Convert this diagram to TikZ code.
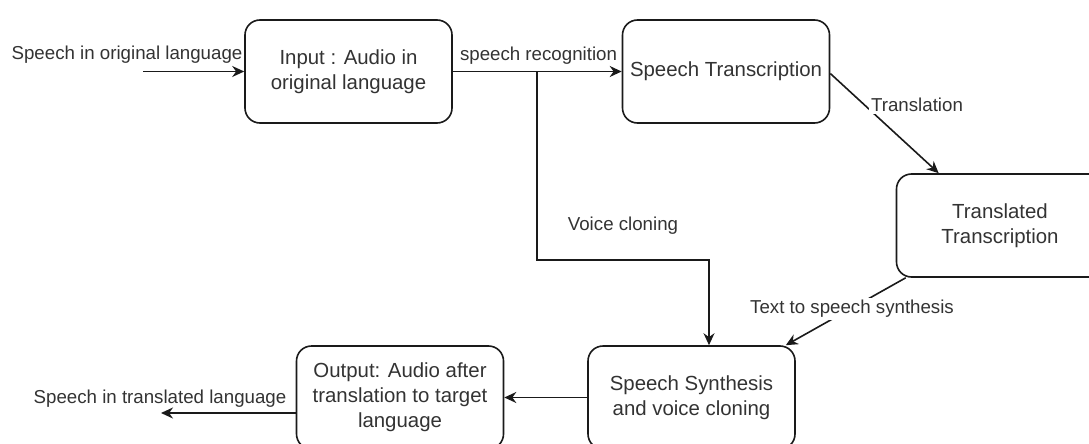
\documentclass[tikz,border=0pt]{standalone}
\usepackage{fontspec}
\setmainfont{Liberation Sans}
\usetikzlibrary{arrows.meta,calc}
\definecolor{ink}{HTML}{1A1A1A}
\definecolor{txt}{HTML}{333333}
\tikzset{
  box/.style={draw=ink,line width=1.6pt,rounded corners=15pt,minimum width=207pt,minimum height=103pt,inner sep=0pt,align=center,text=txt,font=\fontsize{20.4}{25}\selectfont},
  lbl/.style={text=txt,inner sep=1pt,font=\fontsize{18.7}{22}\selectfont},
  wlbl/.style={lbl,fill=white,inner sep=2pt},
  conn/.style={draw=ink,line width=1.6pt},
  arr/.style={conn,-{Stealth[length=12pt,width=11pt]}}
}
\begin{document}
\begin{tikzpicture}[x=1pt,y=-1pt]
\useasboundingbox (0,0) rectangle (1089,444);
\clip (0,0) rectangle (1089,444);
\fill[white] (0,0) rectangle (1089,444);
\node[box] (inp) at (348.5,71.5) {Input : Audio in\\original language};
\node[box] (st) at (726,71.5) {Speech Transcription};
\node[box] (tt) at (1000,225.5) {Translated\\Transcription};
\node[box] (ss) at (691.5,397.5) {Speech Synthesis\\and voice cloning};
\node[box] (out) at (400,397.5) {Output: Audio after\\translation to target\\language};
\coordinate (src) at (143,71.5);
\coordinate (br) at (537,71.5);
\coordinate (vc) at (709,260);
\coordinate (dst) at (161,413);
% input
\draw[arr] (src) -- (inp.west);
\node[lbl] (l1) at (127,55) {Speech in original language};
% recognition
\draw[arr] (inp.east) -- (st.west);
\node[lbl] (l2) at (538.5,56) {speech recognition};
% voice cloning branch
\draw[arr] (br) |- (vc) -- (vc |- ss.north);
\node[lbl] (l3) at (623,226) {Voice cloning};
% translation
\draw[arr] ($(st.east)+(0,2)$) -- ($(tt.north west)+(43,0)$);
\node[wlbl] (l4) at (917,105) {Translation};
% TTS
\draw[arr] ($(tt.south west)+(10,0)$) -- ($(ss.north east)+(-10,0)$);
\node[wlbl] (l5) at (852,309) {Text to speech synthesis};
% to output
\draw[arr] (ss.west) -- (out.east);
\draw[arr] ($(out.west)+(0,15.5)$) -- (dst);
\node[lbl] (l6) at (160,399) {Speech in translated language};
\end{tikzpicture}
\end{document}
